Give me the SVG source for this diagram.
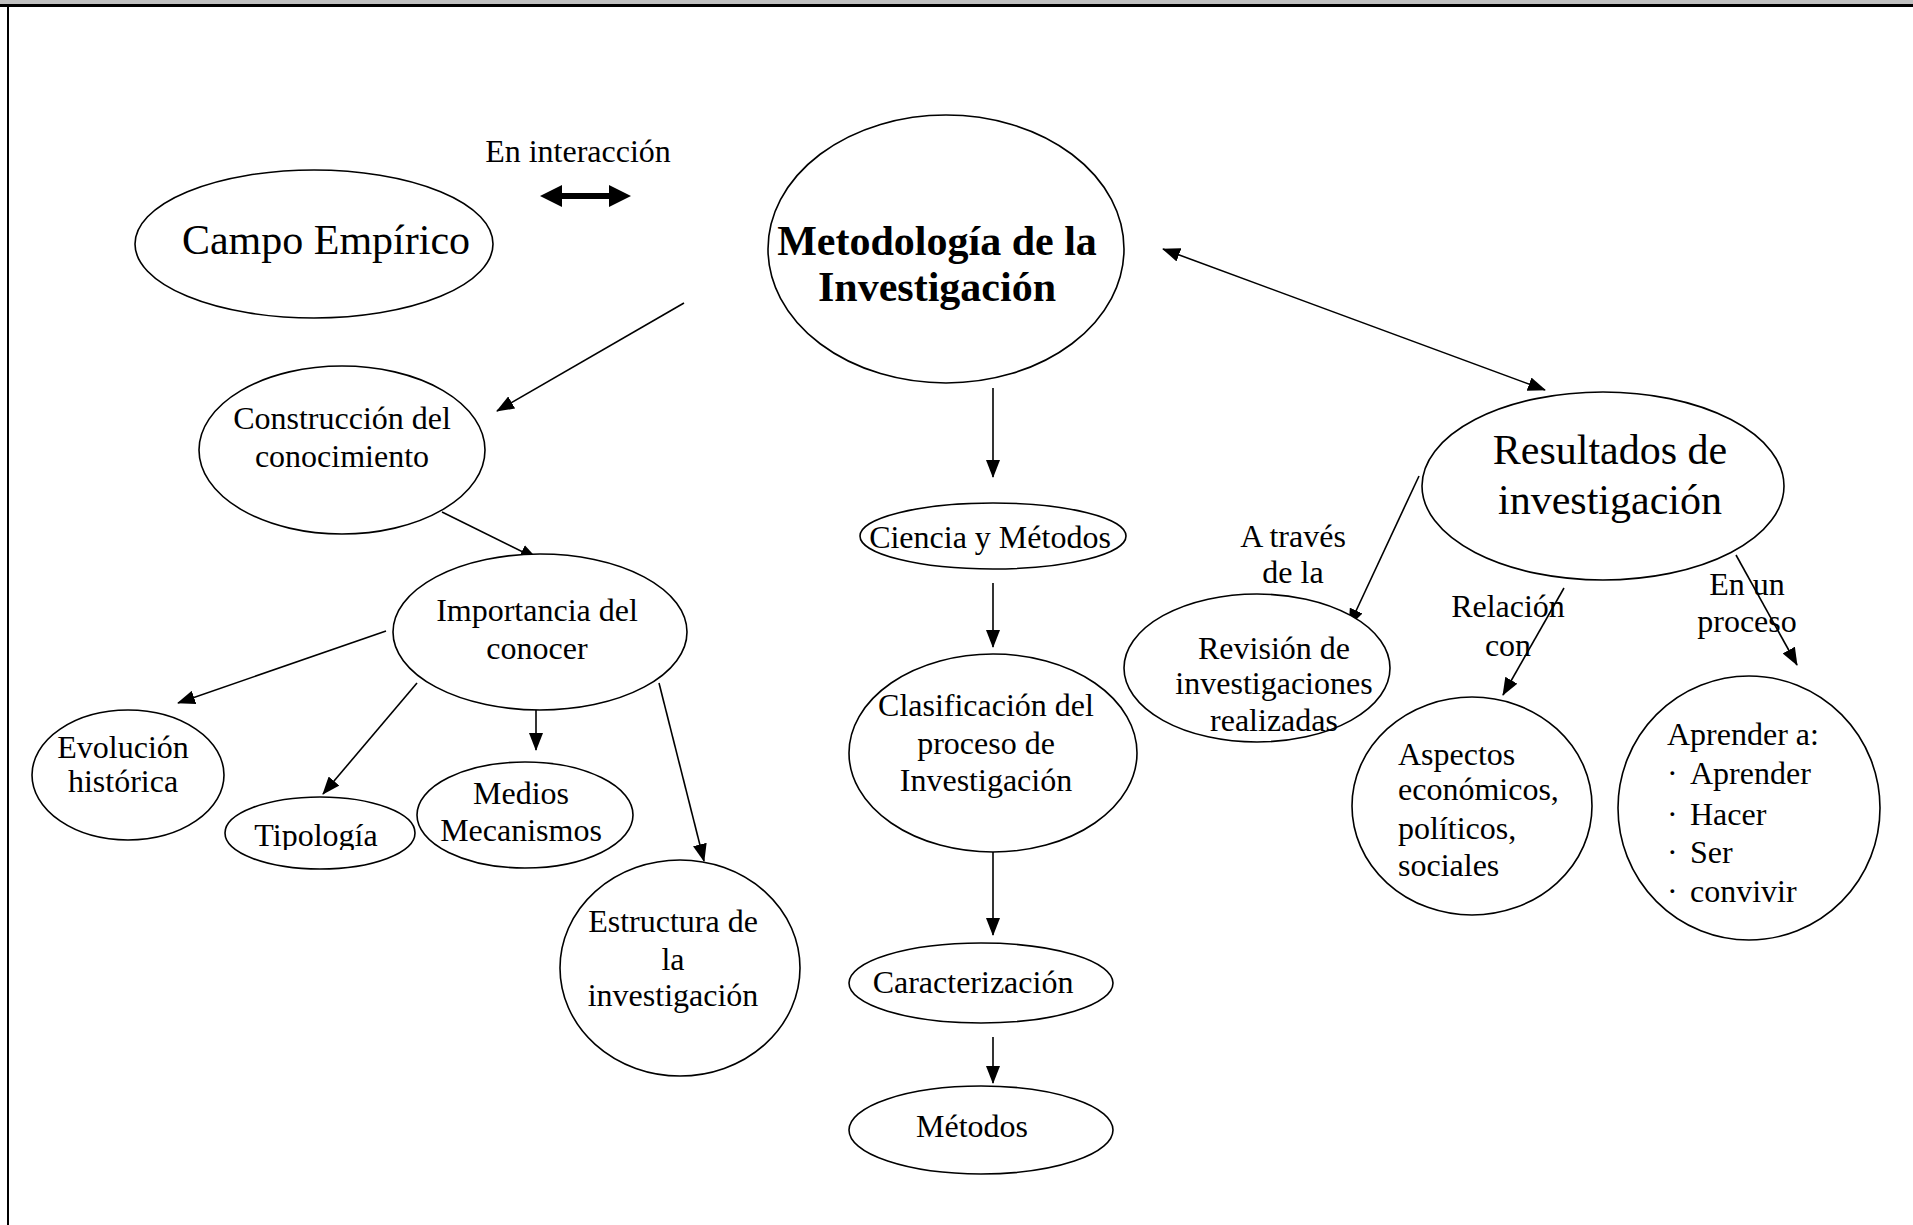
<svg xmlns="http://www.w3.org/2000/svg" width="1913" height="1225" viewBox="0 0 1913 1225">
<defs>
<style>
.n{fill:#fff;stroke:#000;stroke-width:1.6}
.t{font-family:"Liberation Serif","Times New Roman",serif;font-size:32px;fill:#000;text-anchor:middle}
.l{text-anchor:start}
.big{font-size:42px}
.b{font-weight:bold;font-size:42px}
.c{fill:none;stroke:#000;stroke-width:1.6}
</style>
<marker id="ah" markerUnits="userSpaceOnUse" markerWidth="18" markerHeight="14" refX="17" refY="7" orient="auto-start-reverse">
<path d="M0,0 L18,7 L0,14 z" fill="#000"/>
</marker>
<clipPath id="clipTip"><rect x="200" y="790" width="230" height="60"/></clipPath>
</defs>
<rect x="0" y="0" width="1913" height="1225" fill="#fff"/>
<rect x="0" y="0" width="1913" height="4" fill="#c0c0c0"/>
<rect x="0" y="4" width="1913" height="3" fill="#000"/>
<rect x="7" y="4" width="2" height="1221" fill="#000"/>

<g id="connectors">
<path class="c" d="M684,303 L497,411" marker-end="url(#ah)"/>
<path class="c" d="M442,512 L537,559" marker-end="url(#ah)"/>
<path class="c" d="M386,631 L178,703" marker-end="url(#ah)"/>
<path class="c" d="M417,683 L323,794" marker-end="url(#ah)"/>
<path class="c" d="M536,702 L536,750" marker-end="url(#ah)"/>
<path class="c" d="M659,683 L704,861" marker-end="url(#ah)"/>
<path class="c" d="M993,388 L993,477" marker-end="url(#ah)"/>
<path class="c" d="M993,583 L993,647" marker-end="url(#ah)"/>
<path class="c" d="M993,844 L993,935" marker-end="url(#ah)"/>
<path class="c" d="M993,1037 L993,1083" marker-end="url(#ah)"/>
<path class="c" d="M1163,249 L1545,390" marker-start="url(#ah)" marker-end="url(#ah)"/>
<path class="c" d="M1419,476 L1349,626" marker-end="url(#ah)"/>
<path class="c" d="M1564,588 L1503,695" marker-end="url(#ah)"/>
<path class="c" d="M1736,555 L1797,665" marker-end="url(#ah)"/>
<polygon id="interaccion-arrow" points="540,196 562,185 562,193 609,193 609,185 631,196 609,207 609,199 562,199 562,207" fill="#000"/>
</g>

<g id="lbl-interaccion"><text class="t" x="578" y="162">En interacción</text></g>
<g id="lbl-traves"><text class="t" x="1293" y="547">A través</text><text class="t" x="1293" y="583">de la</text></g>
<g id="lbl-relacion"><text class="t" x="1508" y="617">Relación</text><text class="t" x="1508" y="656">con</text></g>
<g id="lbl-proceso"><text class="t" x="1747" y="595">En un</text><text class="t" x="1747" y="632">proceso</text></g>

<g id="campo"><ellipse class="n" cx="314" cy="244" rx="179" ry="74"/><text class="t big" x="326" y="254">Campo Empírico</text></g>
<g id="metodologia"><ellipse class="n" cx="946" cy="249" rx="178" ry="134"/><text class="t b" x="937" y="255">Metodología de la</text><text class="t b" x="937" y="301">Investigación</text></g>
<g id="construccion"><ellipse class="n" cx="342" cy="450" rx="143" ry="84"/><text class="t" x="342" y="429">Construcción del</text><text class="t" x="342" y="467">conocimiento</text></g>
<g id="importancia"><ellipse class="n" cx="540" cy="632" rx="147" ry="78"/><text class="t" x="537" y="621">Importancia del</text><text class="t" x="537" y="659">conocer</text></g>
<g id="evolucion"><ellipse class="n" cx="128" cy="775" rx="96" ry="65"/><text class="t" x="123" y="758">Evolución</text><text class="t" x="123" y="792">histórica</text></g>
<g id="tipologia"><ellipse class="n" cx="320" cy="833" rx="95" ry="36"/><text class="t" x="316" y="846" clip-path="url(#clipTip)">Tipología</text></g>
<g id="medios"><ellipse class="n" cx="525" cy="815" rx="108" ry="53"/><text class="t" x="521" y="804">Medios</text><text class="t" x="521" y="841">Mecanismos</text></g>
<g id="estructura"><ellipse class="n" cx="680" cy="968" rx="120" ry="108"/><text class="t" x="673" y="932">Estructura de</text><text class="t" x="673" y="970">la</text><text class="t" x="673" y="1006">investigación</text></g>
<g id="ciencia"><ellipse class="n" cx="993" cy="536" rx="133" ry="33"/><text class="t" x="990" y="548">Ciencia y Métodos</text></g>
<g id="clasificacion"><ellipse class="n" cx="993" cy="753" rx="144" ry="99"/><text class="t" x="986" y="716">Clasificación del</text><text class="t" x="986" y="754">proceso de</text><text class="t" x="986" y="791">Investigación</text></g>
<g id="caracterizacion"><ellipse class="n" cx="981" cy="983" rx="132" ry="40"/><text class="t" x="973" y="993">Caracterización</text></g>
<g id="metodos"><ellipse class="n" cx="981" cy="1130" rx="132" ry="44"/><text class="t" x="972" y="1137">Métodos</text></g>
<g id="resultados"><ellipse class="n" cx="1603" cy="486" rx="181" ry="94"/><text class="t big" x="1610" y="464">Resultados de</text><text class="t big" x="1610" y="514">investigación</text></g>
<g id="revision"><ellipse class="n" cx="1257" cy="668" rx="133" ry="74"/><text class="t" x="1274" y="659">Revisión de</text><text class="t" x="1274" y="694">investigaciones</text><text class="t" x="1274" y="731">realizadas</text></g>
<g id="aspectos"><ellipse class="n" cx="1472" cy="806" rx="120" ry="109"/><text class="t l" x="1398" y="765">Aspectos</text><text class="t l" x="1398" y="800">económicos,</text><text class="t l" x="1398" y="839">políticos,</text><text class="t l" x="1398" y="876">sociales</text></g>
<g id="aprender"><ellipse class="n" cx="1749" cy="808" rx="131" ry="132"/><text class="t l" x="1667" y="745">Aprender a:</text>
<text class="t l" x="1667" y="784">·</text><text class="t l" x="1690" y="784">Aprender</text>
<text class="t l" x="1667" y="825">·</text><text class="t l" x="1690" y="825">Hacer</text>
<text class="t l" x="1667" y="863">·</text><text class="t l" x="1690" y="863">Ser</text>
<text class="t l" x="1667" y="902">·</text><text class="t l" x="1690" y="902">convivir</text></g>
</svg>
